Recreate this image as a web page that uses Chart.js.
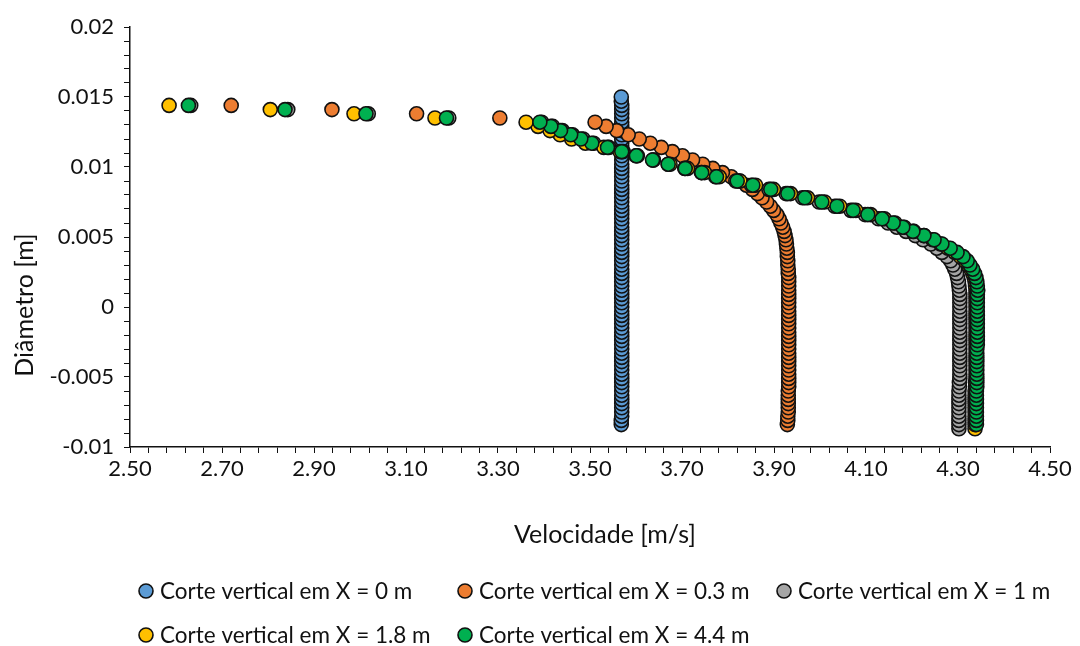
<!DOCTYPE html>
<html>
<head>
<meta charset="utf-8">
<title>Velocidade x Diâmetro</title>
<script src="https://cdn.jsdelivr.net/npm/chart.js@4.4.1/dist/chart.umd.min.js"></script>
<style>
  body { margin: 0; background: #fff; }
  canvas { display: block; }
</style>
</head>
<body>
<canvas id="myChart" width="1080" height="646"></canvas>
<script>
// y levels of the vertical cuts (m), bottom to top
var diametro = [
  -0.0087, -0.0084, -0.0081, -0.0078, -0.0075, -0.0072, -0.0069, -0.0066, -0.0063, -0.0060,
  -0.0057, -0.0054, -0.0051, -0.0048, -0.0045, -0.0042, -0.0039, -0.0036, -0.0033, -0.0030,
  -0.0027, -0.0024, -0.0021, -0.0018, -0.0015, -0.0012, -0.0009, -0.0006, -0.0003, 0.0000,
  0.0003, 0.0006, 0.0009, 0.0012, 0.0015, 0.0018, 0.0021, 0.0024, 0.0027, 0.0030,
  0.0033, 0.0036, 0.0039, 0.0042, 0.0045, 0.0048, 0.0051, 0.0054, 0.0057, 0.0060,
  0.0063, 0.0066, 0.0069, 0.0072, 0.0075, 0.0078, 0.0081, 0.0084, 0.0087, 0.0090,
  0.0093, 0.0096, 0.0099, 0.0102, 0.0105, 0.0108, 0.0111, 0.0114, 0.0117, 0.0120,
  0.0123, 0.0126, 0.0129, 0.0132, 0.0135, 0.0138, 0.0141, 0.0144, 0.0147, 0.0150
];

// velocidade (m/s) at each level, null = no point
var velX0 = [
  null, 3.568, 3.568, 3.569, 3.569, 3.569, 3.569, 3.569, 3.569, 3.569,
  3.569, 3.569, 3.569, 3.569, 3.569, 3.569, 3.569, 3.569, 3.569, 3.569,
  3.569, 3.569, 3.569, 3.569, 3.569, 3.569, 3.569, 3.569, 3.569, 3.569,
  3.569, 3.569, 3.569, 3.569, 3.569, 3.569, 3.569, 3.569, 3.569, 3.569,
  3.569, 3.569, 3.569, 3.569, 3.569, 3.569, 3.569, 3.569, 3.569, 3.569,
  3.569, 3.569, 3.569, 3.569, 3.569, 3.569, 3.569, 3.569, 3.569, 3.569,
  3.569, 3.569, 3.569, 3.569, 3.569, 3.569, 3.569, 3.569, 3.569, 3.569,
  3.569, 3.569, 3.569, 3.569, 3.569, 3.569, 3.569, 3.569, 3.568, 3.568
];
var velX03 = [
  null, 3.929, 3.930, 3.930, 3.931, 3.931, 3.931, 3.931, 3.931, 3.931,
  3.932, 3.932, 3.932, 3.932, 3.932, 3.932, 3.932, 3.932, 3.932, 3.932,
  3.932, 3.932, 3.932, 3.932, 3.932, 3.932, 3.932, 3.932, 3.932, 3.932,
  3.932, 3.932, 3.932, 3.932, 3.932, 3.932, 3.932, 3.931, 3.931, 3.930,
  3.930, 3.929, 3.929, 3.928, 3.927, 3.926, 3.924, 3.922, 3.919, 3.915,
  3.911, 3.906, 3.899, 3.892, 3.884, 3.874, 3.864, 3.853, 3.840, 3.825,
  3.807, 3.788, 3.767, 3.745, 3.723, 3.701, 3.679, 3.655, 3.631, 3.607,
  3.583, 3.558, 3.535, 3.511, 3.304, 3.123, 2.939, 2.720, null, null
];
var velX1 = [
  4.302, 4.302, 4.302, 4.302, 4.302, 4.302, 4.302, 4.302, 4.302, 4.302,
  4.303, 4.303, 4.304, 4.304, 4.304, 4.304, 4.304, 4.304, 4.304, 4.304,
  4.304, 4.304, 4.304, 4.304, 4.304, 4.304, 4.304, 4.304, 4.304, 4.304,
  4.304, 4.304, 4.304, 4.303, 4.302, 4.301, 4.299, 4.297, 4.293, 4.289,
  4.284, 4.276, 4.265, 4.254, 4.241, 4.224, 4.207, 4.187, 4.167, 4.148,
  4.127, 4.098, 4.067, 4.032, 3.998, 3.962, 3.926, 3.889, 3.851, 3.817,
  3.773, 3.742, 3.706, 3.670, 3.637, 3.603, 3.572, 3.541, 3.508, 3.485,
  3.462, 3.440, 3.419, 3.395, 3.193, 3.018, 2.843, 2.632, null, null
];
var velX18 = [
  4.337, 4.337, 4.337, 4.337, 4.337, 4.337, 4.337, 4.337, 4.337, 4.337,
  4.338, 4.338, 4.339, 4.339, 4.339, 4.339, 4.339, 4.339, 4.339, 4.339,
  4.339, 4.339, 4.339, 4.339, 4.339, 4.339, 4.339, 4.339, 4.339, 4.339,
  4.339, 4.339, 4.339, 4.339, 4.338, 4.337, 4.335, 4.332, 4.328, 4.322,
  4.315, 4.305, 4.293, 4.278, 4.262, 4.245, 4.226, 4.204, 4.183, 4.163,
  4.140, 4.110, 4.078, 4.043, 4.010, 3.973, 3.936, 3.899, 3.860, 3.826,
  3.781, 3.749, 3.712, 3.674, 3.638, 3.600, 3.565, 3.530, 3.490, 3.460,
  3.435, 3.413, 3.387, 3.361, 3.163, 2.987, 2.805, 2.585, null, null
];
var velX44 = [
  null, 4.340, 4.340, 4.340, 4.340, 4.340, 4.340, 4.340, 4.340, 4.340,
  4.341, 4.341, 4.341, 4.341, 4.341, 4.341, 4.341, 4.341, 4.341, 4.341,
  4.342, 4.342, 4.342, 4.342, 4.342, 4.342, 4.342, 4.342, 4.342, 4.342,
  4.342, 4.342, 4.342, 4.343, 4.342, 4.341, 4.339, 4.336, 4.332, 4.326,
  4.320, 4.311, 4.298, 4.283, 4.265, 4.248, 4.226, 4.202, 4.180, 4.159,
  4.135, 4.104, 4.072, 4.037, 4.004, 3.967, 3.930, 3.893, 3.854, 3.820,
  3.775, 3.743, 3.707, 3.670, 3.636, 3.601, 3.569, 3.538, 3.504, 3.480,
  3.458, 3.436, 3.415, 3.391, 3.188, 3.013, 2.837, 2.627, null, null
];

var series = [
  'Corte vertical em X = 0 m',
  'Corte vertical em X = 0.3 m',
  'Corte vertical em X = 1 m',
  'Corte vertical em X = 1.8 m',
  'Corte vertical em X = 4.4 m'
];
var cores = ['#5B9BD5', '#ED7D31', '#A5A5A5', '#FFC000', '#00B050'];
var xTickLabels = ['2.50', '2.70', '2.90', '3.10', '3.30', '3.50', '3.70', '3.90', '4.10', '4.30', '4.50'];
var yTickLabels = ['-0.01', '-0.005', '0', '0.005', '0.01', '0.015', '0.02'];
var xTitle = 'Velocidade [m/s]';
var yTitle = 'Diâmetro [m]';

function pontos(vel) {
  var lista = [];
  for (var i = 0; i < diametro.length; i++) {
    if (vel[i] !== null) lista.push({x: vel[i], y: diametro[i]});
  }
  return lista;
}

var velocidades = [velX0, velX03, velX1, velX18, velX44];
var datasets = [];
for (var i = 0; i < velocidades.length; i++) {
  datasets.push({
    label: series[i],
    data: pontos(velocidades[i]),
    backgroundColor: cores[i],
    borderColor: '#111',
    borderWidth: 1.6,
    pointRadius: 7,
    pointHoverRadius: 7,
    order: velocidades.length - i   // last series drawn on top, like Excel
  });
}

// axis titles and legend grid, placed like the Excel original
var extras = {
  id: 'extras',
  afterDraw: function(chart) {
    var c = chart.ctx;
    var a = chart.chartArea;
    c.save();
    c.fillStyle = '#111';
    c.textBaseline = 'middle';
    c.textAlign = 'center';
    c.font = '25px Lato';
    c.fillText(xTitle, (a.left + a.right) / 2 + 15, a.bottom + 88);
    c.save();
    c.translate(25, 305);
    c.rotate(-Math.PI / 2);
    c.fillText(yTitle, 0, 0);
    c.restore();

    c.font = '22.5px Lato';
    c.textAlign = 'left';
    chart.data.datasets.forEach(function(ds, k) {
      var tx = a.left + 30 + (k % 3) * 319;
      var ty = a.bottom + 144 + Math.floor(k / 3) * 44;
      c.beginPath();
      c.arc(tx - 14, ty, 7, 0, Math.PI * 2);
      c.fillStyle = ds.backgroundColor;
      c.fill();
      c.lineWidth = 1.6;
      c.strokeStyle = '#111';
      c.stroke();
      c.fillStyle = '#111';
      c.fillText(ds.label, tx, ty + 1);
    });
    c.restore();
  }
};

Chart.defaults.font.family = 'Lato';
Chart.defaults.font.size = 22;
Chart.defaults.color = '#111';

var ctx = document.getElementById('myChart').getContext('2d');
var myChart = new Chart(ctx, {
  type: 'scatter',
  data: { datasets: datasets },
  options: {
    responsive: false,
    animation: false,
    layout: { padding: { left: 10, right: 30, top: 27, bottom: 0 } },
    plugins: {
      legend: { display: false },
      tooltip: { enabled: false }
    },
    scales: {
      x: {
        type: 'linear',
        min: 2.5,
        max: 4.5,
        afterFit: function(scale) { scale.height = 199; },
        border: { display: true, color: '#111', width: 1.5 },
        grid: { drawOnChartArea: false, drawTicks: true, tickLength: 6, color: '#111', lineWidth: 1 },
        ticks: {
          stepSize: 0.04,
          autoSkip: false,
          maxRotation: 0,
          minRotation: 0,
          padding: 3,
          callback: function(v, i) { return i % 5 === 0 ? xTickLabels[i / 5] : ''; }
        }
      },
      y: {
        type: 'linear',
        min: -0.01,
        max: 0.02,
        afterFit: function(scale) { scale.width = 120; },
        border: { display: true, color: '#111', width: 1.5 },
        grid: { drawOnChartArea: false, drawTicks: true, tickLength: 6, color: '#111', lineWidth: 1 },
        ticks: {
          stepSize: 0.001,
          autoSkip: false,
          padding: 10,
          callback: function(v, i) { return i % 5 === 0 ? yTickLabels[i / 5] : ''; }
        }
      }
    }
  },
  plugins: [extras]
});
</script>
</body>
</html>
